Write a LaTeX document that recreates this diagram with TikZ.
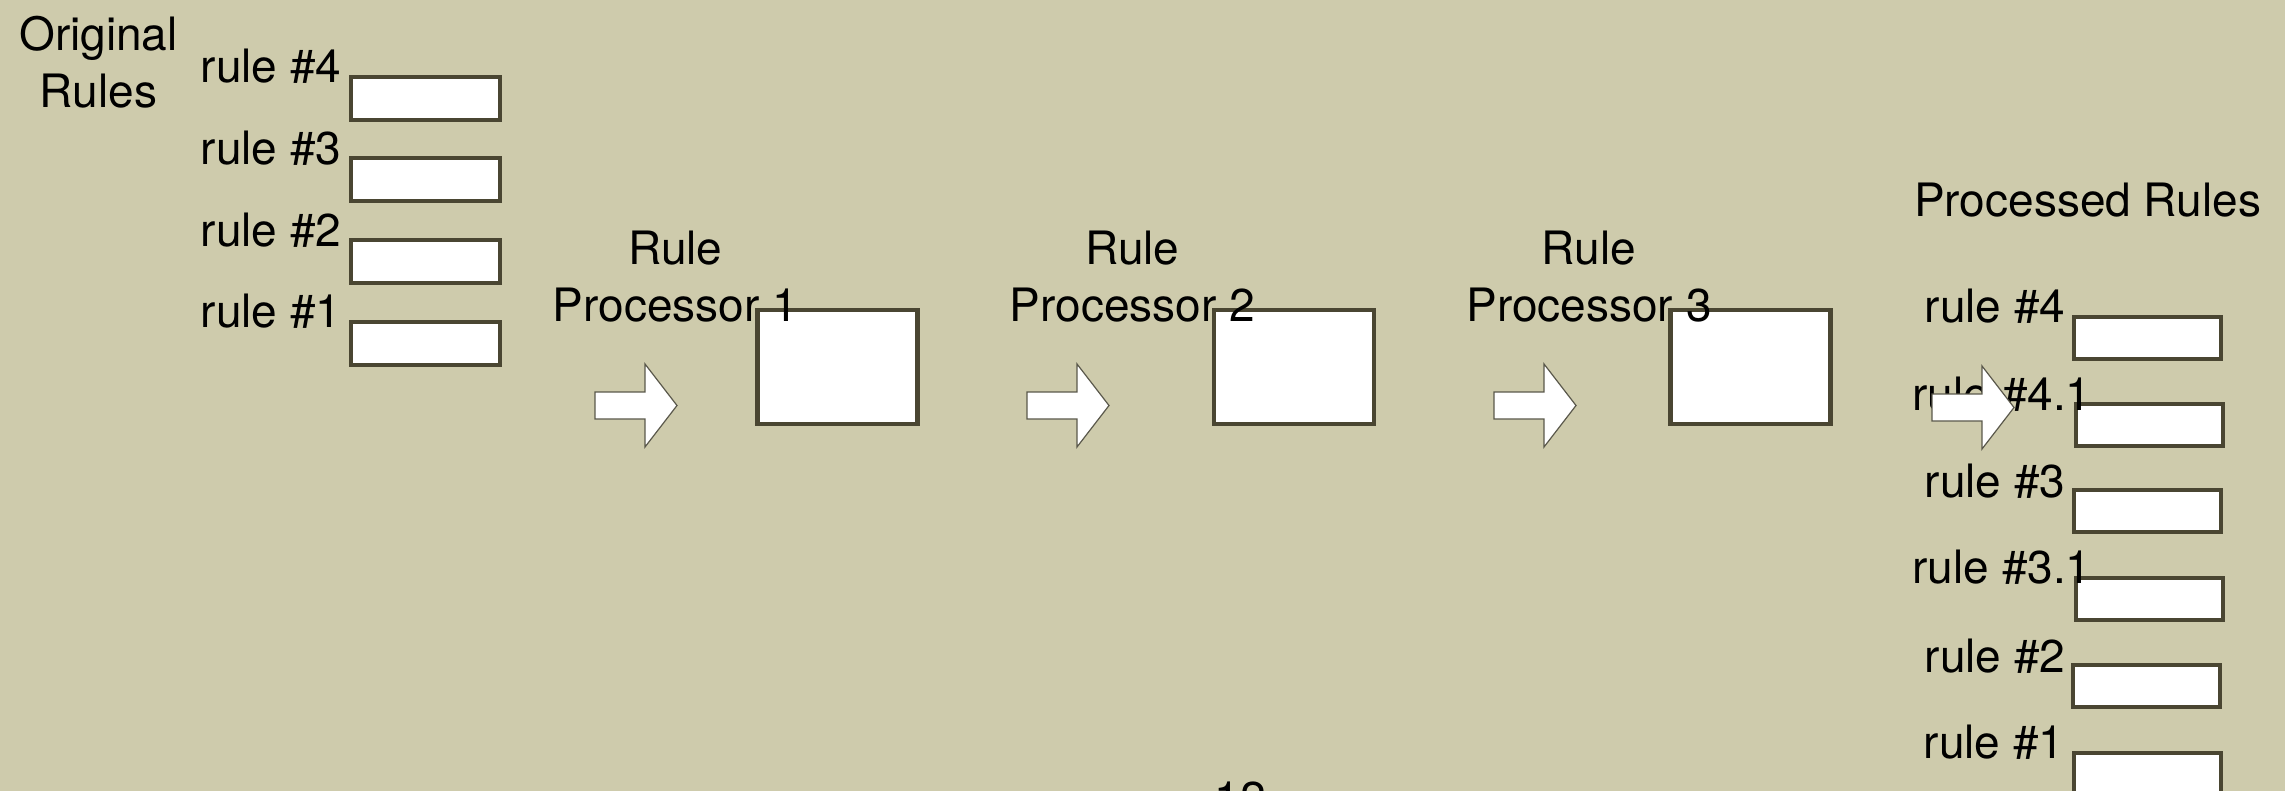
\documentclass[tikz,border=0pt]{standalone}
\usepackage{fontspec}
\setmainfont{TeX Gyre Heros}
\definecolor{bg}{RGB}{206,203,172}
\definecolor{boxline}{RGB}{74,70,50}
\definecolor{arrline}{RGB}{90,88,75}
\begin{document}
\begin{tikzpicture}[x=1pt,y=-1pt,
  lbl/.style={font=\fontsize{46}{57}\selectfont, inner sep=0pt, anchor=base, align=center, text=black},
  rulebox/.style={draw=boxline, line width=4pt, fill=white, inner sep=0pt, minimum width=147pt, minimum height=42pt},
  procbox/.style={draw=boxline, line width=4.5pt, fill=white, inner sep=0pt, minimum width=160pt, minimum height=113.5pt},
  blockarrow/.pic={\draw[fill=white, draw=arrline, line width=1.2pt, line join=miter]
     (0,-13.5) -- (50,-13.5) -- (50,-41.5) -- (82,0) -- (50,41.5) -- (50,13.5) -- (0,13.5) -- cycle;}
]
\useasboundingbox (0,0) rectangle (2285,791);
\clip (0,0) rectangle (2285,791);
\fill[bg] (0,0) rectangle (2285,791);

% original rule boxes
\node[rulebox, minimum width=149pt, minimum height=43pt] (o4) at (425.5,98.5) {};
\node[rulebox, minimum width=149pt, minimum height=43pt] (o3) at (425.5,180) {};
\node[rulebox, minimum width=149pt, minimum height=43pt] (o2) at (425.5,261.5) {};
\node[rulebox, minimum width=149pt, minimum height=43pt] (o1) at (425.5,343.5) {};

% processor boxes
\node[procbox] (pb1) at (837.5,367) {};
\node[procbox] (pb2) at (1294,367) {};
\node[procbox] (pb3) at (1750.5,367) {};

% processed rule boxes
\node[rulebox] (r4)  at (2147,338) {};
\node[rulebox] (r41) at (2149,425) {};
\node[rulebox] (r3)  at (2147,511) {};
\node[rulebox] (r31) at (2149,599) {};
\node[rulebox] (r2)  at (2146,686) {};
\node[rulebox] (r1)  at (2147,774) {};

% texts (anchor=base of a two-line node is the last line's baseline)
\node[lbl] (origlbl) at (98.5,108) {Original\\Rules};
\node[lbl] (ol4) at (271,83) {rule \#4};
\node[lbl] (ol3) at (271,165) {rule \#3};
\node[lbl] (ol2) at (271,247) {rule \#2};
\node[lbl] (ol1) at (271,328) {rule \#1};

\node[lbl] (p1lbl) at (675.5,322) {Rule\\Processor 1};
\node[lbl] (p2lbl) at (1132.5,322) {Rule\\Processor 2};
\node[lbl] (p3lbl) at (1589,322) {Rule\\Processor 3};

\node[lbl] (proclbl) at (2087.5,217) {Processed Rules};
\node[lbl] (rl4)  at (1995,323) {rule \#4};
\node[lbl] (rl41) at (2002,410) {rule \#4.1};
\node[lbl] (rl3)  at (1995,497) {rule \#3};
\node[lbl] (rl31) at (2002,583) {rule \#3.1};
\node[lbl] (rl2)  at (1995,672) {rule \#2};
\node[lbl] (rl1)  at (1994,758) {rule \#1};

\node[lbl] (pgnum) at (1240,814) {12};

% block arrows
\pic at (595,405.5) {blockarrow};
\pic at (1027,405.5) {blockarrow};
\pic at (1494,405.5) {blockarrow};
\pic at (1932,407.5) {blockarrow};
\end{tikzpicture}
\end{document}
